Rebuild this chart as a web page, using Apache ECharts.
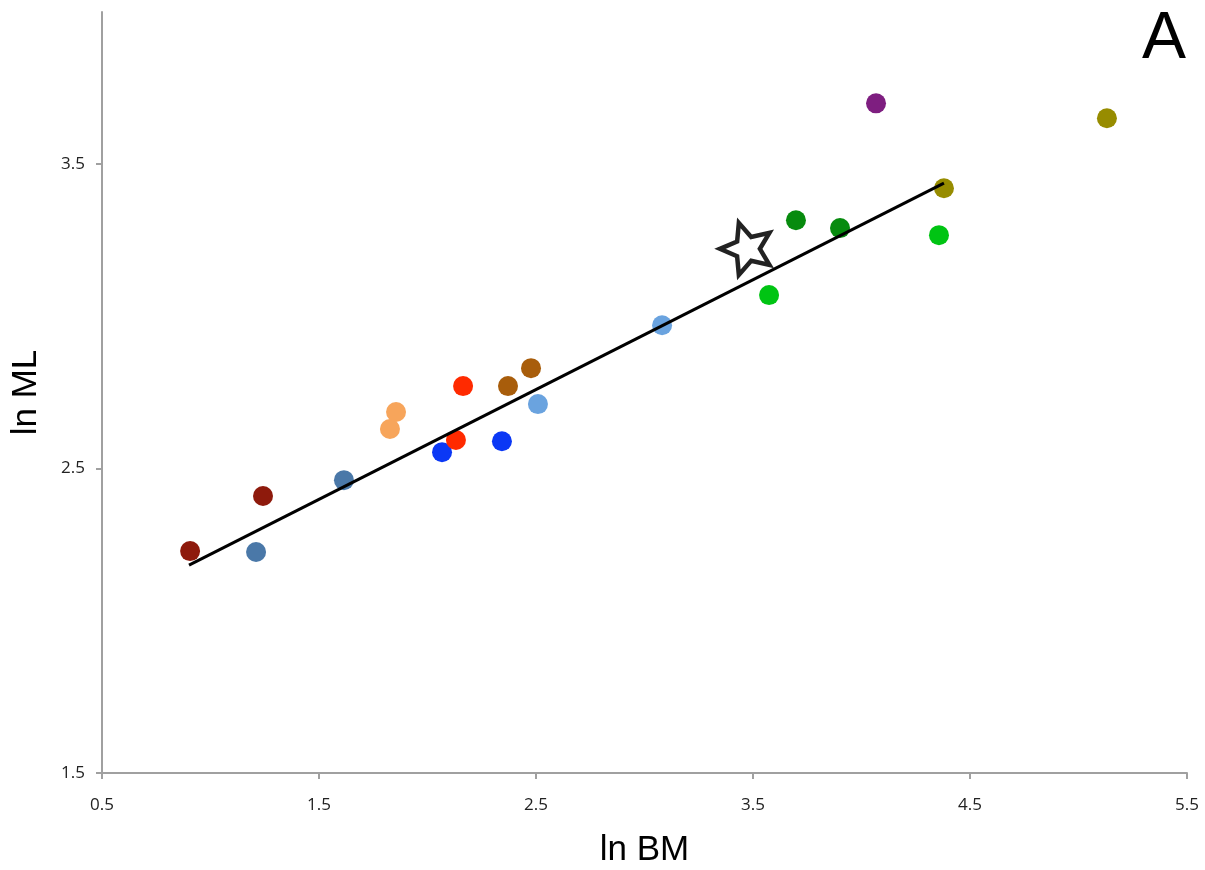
<!DOCTYPE html>
<html>
<head>
<meta charset="utf-8">
<title>ln ML vs ln BM</title>
<script src="https://cdn.jsdelivr.net/npm/echarts@6/dist/echarts.min.js"></script>
<style>
  html, body { margin: 0; padding: 0; background: #fff; }
  #main { width: 1205px; height: 870px; }
</style>
</head>
<body>
<div id="main"></div>
<script>
// tick labels
var xTicks = [0.5, 1.5, 2.5, 3.5, 4.5, 5.5];
var yTicks = [1.5, 2.5, 3.5];

// points, one small array per colour group: [ln BM, ln ML]
var darkRed     = [[0.906, 2.229], [1.242, 2.410]];
var steelBlue   = [[1.210, 2.226], [1.615, 2.462]];
var lightOrange = [[1.827, 2.630], [1.855, 2.686]];
var blue        = [[2.067, 2.554], [2.343, 2.590]];
var red         = [[2.131, 2.594], [2.164, 2.771]];
var brown       = [[2.371, 2.771], [2.477, 2.830]];
var lightBlue   = [[2.509, 2.712], [3.081, 2.971]];
var brightGreen = [[3.574, 3.070], [4.357, 3.267]];
var darkGreen   = [[3.698, 3.316], [3.901, 3.290]];
var purple      = [[4.067, 3.700]];
var olive       = [[4.380, 3.421], [5.131, 3.651]];

// the star and the fitted line
var starPoint = [[3.470, 3.230]];
var fitLine   = [[0.901, 2.183], [4.380, 3.438]];

var starPath = 'path://M50 0 L63.5 31.5 L97.55 34.55 L71.9 57.1 L79.39 90.45 L50 73 L20.61 90.45 L28.1 57.1 L2.45 34.55 L36.5 31.5 Z';

function dots(data, color) {
    return {
        type: 'scatter',
        data: data,
        symbol: 'circle',
        symbolSize: 20,
        itemStyle: { color: color, opacity: 1 },
        z: 3
    };
}

var myChart = echarts.init(document.getElementById('main'));

var axisStyle = { lineStyle: { color: '#a0a0a0', width: 2 } };

var option = {
    backgroundColor: '#fff',
    animation: false,
    grid: { left: 102, right: 18, top: 12, bottom: 97, outerBoundsMode: 'none' },
    xAxis: {
        type: 'value',
        min: 0.5,
        max: 5.5,
        name: 'ln BM',
        nameLocation: 'middle',
        nameGap: 60,
        nameTextStyle: { fontFamily: 'Liberation Sans', fontSize: 35, color: '#000' },
        axisLine: axisStyle,
        axisTick: { show: true, length: 6, lineStyle: { color: '#a0a0a0', width: 2 }, customValues: xTicks },
        axisLabel: { customValues: xTicks, margin: 24, fontFamily: 'Open Sans', fontSize: 17, color: '#222',
            formatter: function (v) { return v.toFixed(1); } },
        splitLine: { show: false }
    },
    yAxis: {
        type: 'value',
        min: 1.5,
        max: 4.0,
        name: 'ln ML',
        nameLocation: 'middle',
        nameGap: 58,
        nameTextStyle: { fontFamily: 'Liberation Sans', fontSize: 35, color: '#000' },
        axisLine: { show: true, lineStyle: { color: '#a0a0a0', width: 2 } },
        axisTick: { show: true, length: 6, lineStyle: { color: '#a0a0a0', width: 2 }, customValues: yTicks },
        axisLabel: { customValues: yTicks, margin: 17, fontFamily: 'Open Sans', fontSize: 17, color: '#222',
            formatter: function (v) { return v.toFixed(1); } },
        splitLine: { show: false }
    },
    graphic: [{
        type: 'text',
        right: 19,
        top: 7,
        style: { text: 'A', font: '66px "Liberation Sans"', fill: '#000' }
    }],
    series: [
        {
            type: 'line',
            data: fitLine,
            symbol: 'none',
            lineStyle: { color: '#000', width: 3 },
            z: 4
        },
        dots(darkRed, '#8e1a0c'),
        dots(steelBlue, '#4a78a8'),
        dots(lightOrange, '#f7a55b'),
        dots(blue, '#0b38f5'),
        dots(red, '#ff2a00'),
        dots(brown, '#a85d0b'),
        dots(lightBlue, '#6aa3df'),
        dots(brightGreen, '#00c413'),
        dots(darkGreen, '#078b0e'),
        dots(purple, '#7e1e80'),
        dots(olive, '#978c00'),
        {
            type: 'scatter',
            data: starPoint,
            symbol: starPath,
            symbolKeepAspect: true,
            symbolSize: 52,
            symbolRotate: 18,
            itemStyle: { color: '#fff', borderColor: '#222', borderWidth: 4.5, opacity: 1 },
            z: 5
        }
    ]
};

myChart.setOption(option);
</script>
</body>
</html>
